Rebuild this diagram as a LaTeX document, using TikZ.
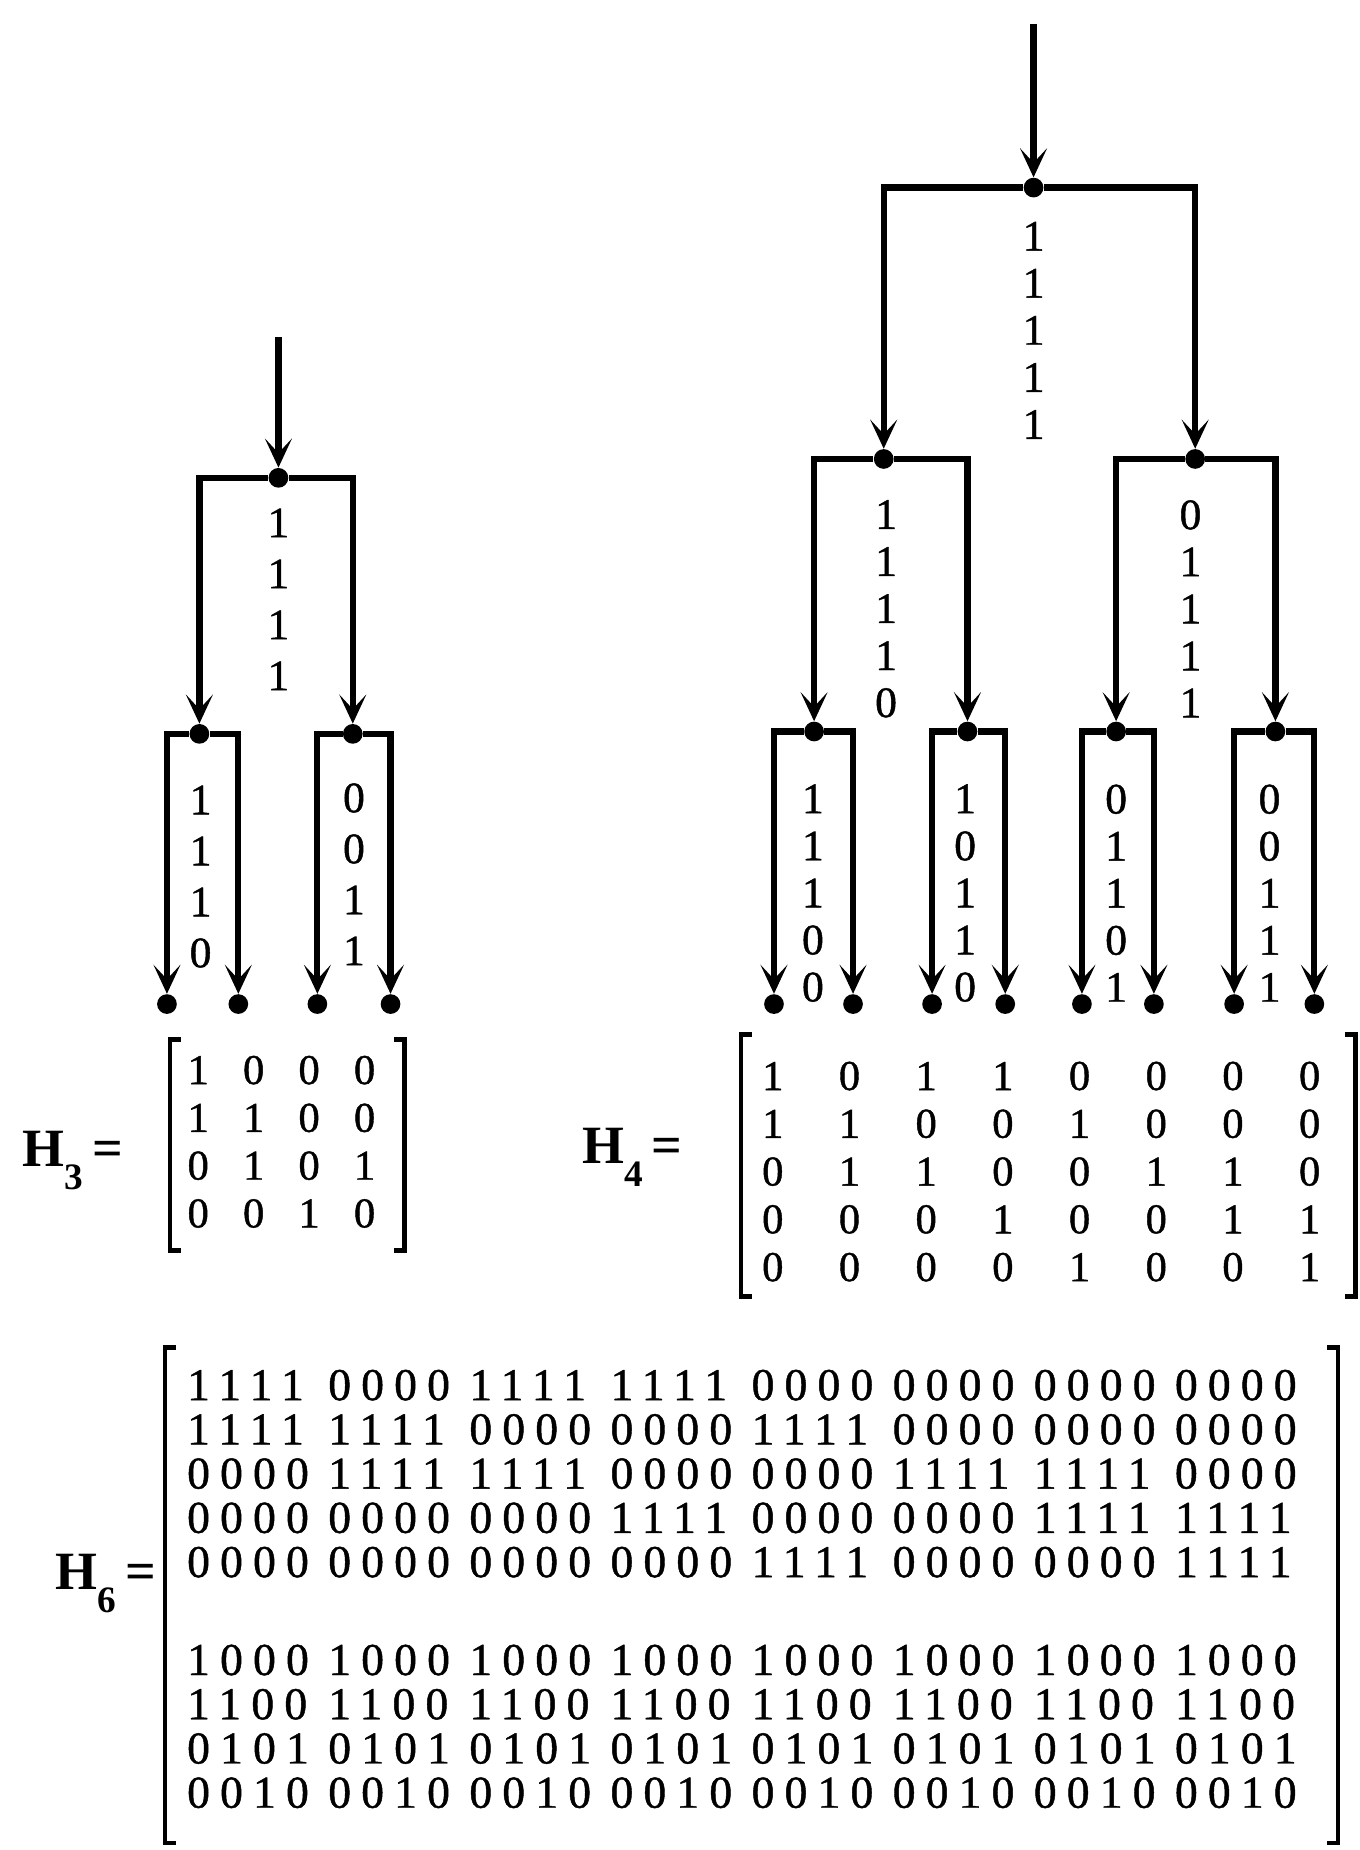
\documentclass[tikz,border=0pt]{standalone}
\usepackage{fontspec}
\setmainfont{Liberation Serif}
\newfontfamily\bitfont[FakeBold=1]{Liberation Serif}
\newfontfamily\rowfont[LetterSpace=22.3,FakeBold=1]{Liberation Serif}
\usetikzlibrary{arrows.meta}

\tikzset{
  wire/.style={line width=3pt, -{Stealth[length=14pt,width=13pt,inset=7pt]}},
  dot/.style={circle, fill, inner sep=0pt, minimum size=9.5pt},
  bits/.style={align=center, inner sep=0pt, font=\bitfont\fontsize{21}{22.7}\selectfont},
  bitsw/.style={bits, font=\bitfont\fontsize{21}{24.6}\selectfont},
  entry/.style={inner sep=0pt, font=\bitfont\fontsize{20.5}{20.5}\selectfont},
  grp/.style={inner sep=0pt, anchor=west, font=\rowfont\fontsize{22}{22}\selectfont},
  hlab/.style={inner sep=0pt, anchor=base west, font=\bfseries\fontsize{26}{26}\selectfont},
  brkt/.style={line width=2.2pt},
}
\newcommand\hsub[1]{\raisebox{-11pt}{\fontsize{18}{18}\selectfont #1}}

\begin{document}
\begin{tikzpicture}[x=0.02cm, y=-0.02cm]
\useasboundingbox (0,0) rectangle (1152,1568);

% tree of H3
\coordinate (t3) at (236,286);
\node[dot] (r3) at (236,405) {};
\node[dot] (a3) at (169,622) {};\node[dot] (b3) at (299,622) {};
\foreach \n/\x in {a3l/141.5,a3r/202,b3l/269,b3r/331}
  \node[dot] (\n) at (\x,851) {};
\draw[wire] (t3) -- (r3);
\foreach \p/\c in {r3/a3,r3/b3,a3/a3l,a3/a3r,b3/b3l,b3/b3r}
  \draw[wire] (\p) -| (\c);

\node[bitsw] (l3r) at (236,508) {1\\1\\1\\1};
\node[bitsw] (l3a) at (170,743) {1\\1\\1\\0};
\node[bitsw] (l3b) at (300,741) {0\\0\\1\\1};

% tree of H4
\coordinate (t4) at (876,20);
\node[dot] (r4) at (876,159) {};
\node[dot] (a4) at (749,389) {};\node[dot] (b4) at (1013,389) {};
\node[dot] (aa4) at (690,620) {};\node[dot] (ab4) at (820,620) {};
\node[dot] (ba4) at (946,620) {};\node[dot] (bb4) at (1081,620) {};
\foreach \n/\x in {aal/656,aar/723,abl/790,abr/852,bal/917,bar/978,bbl/1046,bbr/1114}
  \node[dot] (\n) at (\x,851) {};
\draw[wire] (t4) -- (r4);
\foreach \p/\c in {r4/a4,r4/b4,a4/aa4,a4/ab4,b4/ba4,b4/bb4,
                   aa4/aal,aa4/aar,ab4/abl,ab4/abr,ba4/bal,ba4/bar,bb4/bbl,bb4/bbr}
  \draw[wire] (\p) -| (\c);

\node[bits] (l4r) at (876,280) {1\\1\\1\\1\\1};
\node[bits] (l4a) at (751,516) {1\\1\\1\\1\\0};
\node[bits] (l4b) at (1009,516) {0\\1\\1\\1\\1};
\node[bits] (l4aa) at (689,757) {1\\1\\1\\0\\0};
\node[bits] (l4ab) at (818,757) {1\\0\\1\\1\\0};
\node[bits] (l4ba) at (946,757) {0\\1\\1\\0\\1};
\node[bits] (l4bb) at (1076,757) {0\\0\\1\\1\\1};

% H3
\node[hlab] (h3) at (19,989) {H\hsub{3}\,=};
\foreach \row [count=\r] in {{1,0,0,0},{1,1,0,0},{0,1,0,1},{0,0,1,0}}
  \foreach \e [count=\c] in \row
    \node[entry] (m3-\r-\c) at ({168+47*(\c-1)},{907+40.5*(\r-1)}) {\e};
\draw[brkt] (153,881) -- (144,881) -- (144,1060) -- (153,1060);
\draw[brkt] (334,881) -- (343,881) -- (343,1060) -- (334,1060);

% H4
\node[hlab] (h4) at (493,986) {H\hsub{4}\,=};
\foreach \row [count=\r] in {{1,0,1,1,0,0,0,0},{1,1,0,0,1,0,0,0},{0,1,1,0,0,1,1,0},
                             {0,0,0,1,0,0,1,1},{0,0,0,0,1,0,0,1}}
  \foreach \e [count=\c] in \row
    \node[entry] (m4-\r-\c) at ({655+65*(\c-1)},{912+40.5*(\r-1)}) {\e};
\draw[brkt] (637,877) -- (628,877) -- (628,1099) -- (637,1099);
\draw[brkt] (1140,877) -- (1149,877) -- (1149,1099) -- (1140,1099);

% H6
\node[hlab] (h6) at (47,1347) {H\hsub{6}\,=};
\foreach \row [count=\r] in {{1111,0000,1111,1111,0000,0000,0000,0000},
                             {1111,1111,0000,0000,1111,0000,0000,0000},
                             {0000,1111,1111,0000,0000,1111,1111,0000},
                             {0000,0000,0000,1111,0000,0000,1111,1111},
                             {0000,0000,0000,0000,1111,0000,0000,1111},
                             {1000,1000,1000,1000,1000,1000,1000,1000},
                             {1100,1100,1100,1100,1100,1100,1100,1100},
                             {0101,0101,0101,0101,0101,0101,0101,0101},
                             {0010,0010,0010,0010,0010,0010,0010,0010}}
  \foreach \g [count=\c] in \row
    \node[grp] (m6-\r-\c) at ({158.3+119.6*(\c-1)},{1174+37.5*(\r-1)+45.5*(\r>5)}) {\g};
\draw[brkt] (149,1142) -- (140,1142) -- (140,1562) -- (149,1562);
\draw[brkt] (1125,1142) -- (1134,1142) -- (1134,1562) -- (1125,1562);
\end{tikzpicture}
\end{document}
